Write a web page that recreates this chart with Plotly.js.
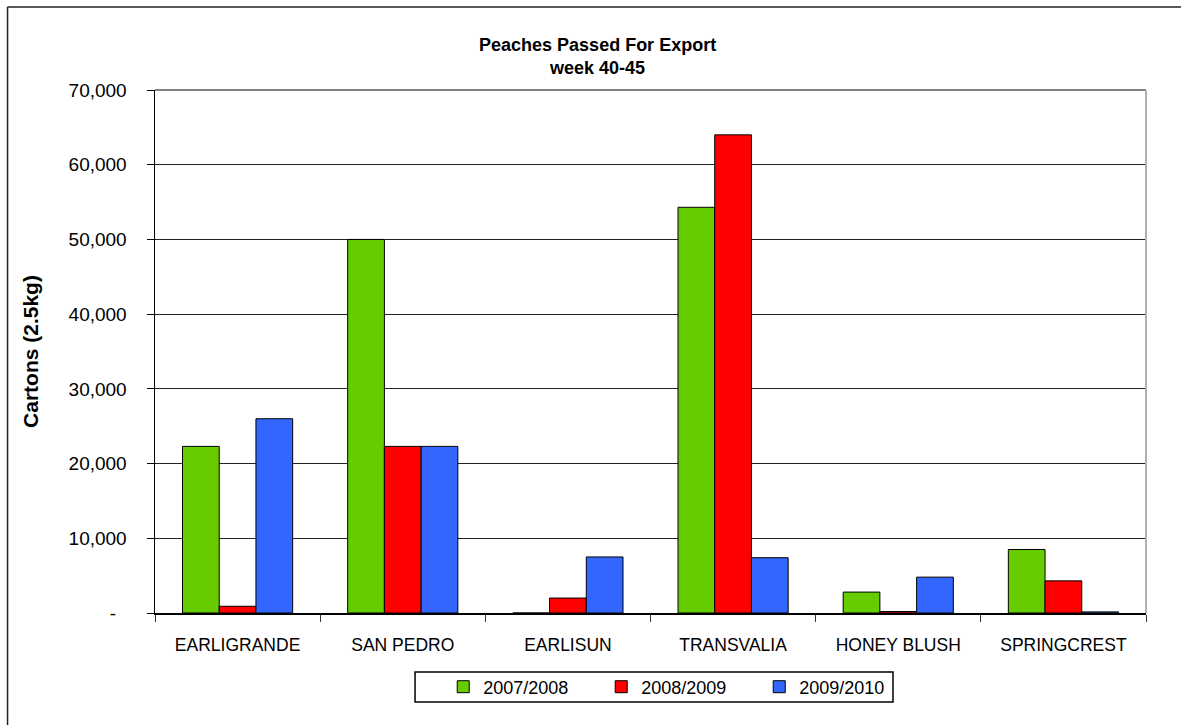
<!DOCTYPE html>
<html>
<head>
<meta charset="utf-8">
<script src="https://cdn.plot.ly/plotly-3.0.1.min.js"></script>
<style>html,body{margin:0;padding:0;background:#fff;}#chart{width:1181px;height:725px;}</style>
</head>
<body>
<div id="chart"></div>
<script>
const categories = ["EARLIGRANDE", "SAN PEDRO", "EARLISUN", "TRANSVALIA", "HONEY BLUSH", "SPRINGCREST"];
const s2007 = [22300, 50000, 0, 54300, 2800, 8500];
const s2008 = [900, 22300, 2000, 64000, 200, 4300];
const s2009 = [26000, 22300, 7500, 7400, 4800, 150];
const seriesNames = ["2007/2008", "2008/2009", "2009/2010"];
const seriesColors = ["#66CC00", "#FF0000", "#3366FF"];
const yTickVals = [0, 10000, 20000, 30000, 40000, 50000, 60000, 70000];
const yTickText = ["-\u00a0\u00a0", "10,000", "20,000", "30,000", "40,000", "50,000", "60,000", "70,000"];

const seriesValues = [s2007, s2008, s2009];
const data = seriesValues.map((vals, i) => ({
  type: "bar",
  name: seriesNames[i],
  x: categories,
  y: vals,
  marker: {color: seriesColors[i], line: {color: "#000", width: 1}},
  hoverinfo: "x+y+name"
}));

const layout = {
  width: 1181, height: 725,
  margin: {l: 155, r: 35, t: 90, b: 112},
  paper_bgcolor: "#fff", plot_bgcolor: "#fff",
  font: {family: "Liberation Sans, Arial, sans-serif", size: 17, color: "#000"},
  title: {
    text: "<b>Peaches Passed For Export<br>week 40-45</b>",
    font: {size: 18, color: "#000"},
    x: 0.506, xref: "container", xanchor: "center",
    y: 0.93, yref: "container", yanchor: "top"
  },
  barmode: "group",
  bargap: 0.333,
  bargroupgap: 0,
  showlegend: true,
  legend: {
    orientation: "h",
    x: 0.53, xanchor: "center",
    y: -0.1415, yanchor: "middle",
    borderwidth: 0,
    bgcolor: "rgba(0,0,0,0)",
    font: {size: 18, color: "#000"},
    itemwidth: 30,
    entrywidth: 113,
    traceorder: "normal"
  },
  xaxis: {
    showline: true, linecolor: "#000", linewidth: 1.5,
    ticks: "outside", ticklen: 7, tickcolor: "#333",
    tickson: "boundaries",
    showgrid: false, zeroline: false,
    tickfont: {size: 17.5, color: "#000"},
    ticklabelstandoff: 15,
    fixedrange: true
  },
  yaxis: {
    range: [0, 70000],
    tickvals: yTickVals, ticktext: yTickText,
    showline: true, linecolor: "#000", linewidth: 1.5,
    ticks: "outside", ticklen: 7, tickcolor: "#000",
    showgrid: true, gridcolor: "#222", gridwidth: 1,
    zeroline: false,
    tickfont: {size: 19, color: "#000"},
    ticklabelstandoff: 16,
    title: {text: "<b>Cartons (2.5kg)</b>", font: {size: 21, color: "#000"}, standoff: 24},
    fixedrange: true
  },
  shapes: [
    {type: "line", xref: "paper", yref: "paper", x0: 0, x1: 1, y0: 1, y1: 1, line: {color: "#808080", width: 2}},
    {type: "line", xref: "paper", yref: "paper", x0: 1, x1: 1, y0: 0, y1: 1, line: {color: "#b0b0b0", width: 2}},
    {type: "line", xref: "paper", yref: "paper", x0: -0.1488, x1: 1.3, y0: 1.1587, y1: 1.1587, line: {color: "#222", width: 1.5}},
    {type: "line", xref: "paper", yref: "paper", x0: -0.1488, x1: -0.1488, y0: -0.5, y1: 1.1587, line: {color: "#222", width: 1.5}},
    {type: "rect", xref: "paper", yref: "paper", x0: 0.2624, x1: 0.7447, y0: -0.1702, y1: -0.1128, line: {color: "#000", width: 1.5}}
  ]
};

Plotly.newPlot("chart", data, layout, {displayModeBar: false, staticPlot: true});
</script>
</body>
</html>
